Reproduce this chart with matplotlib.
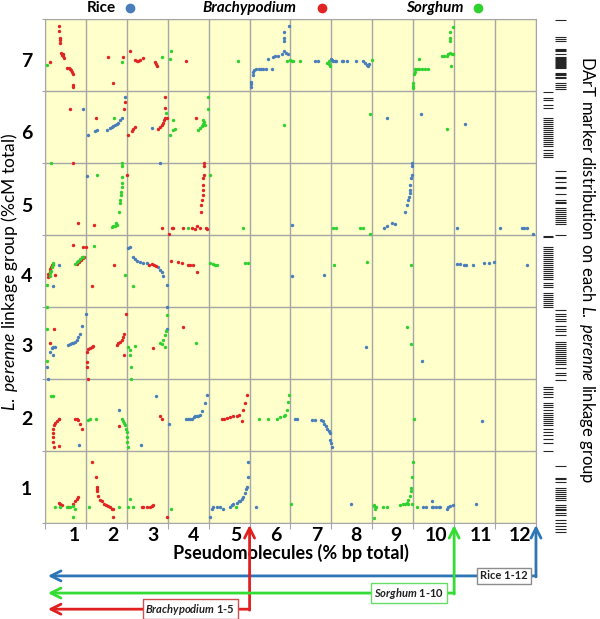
import matplotlib.pyplot as plt
from matplotlib.lines import Line2D
from matplotlib.transforms import blended_transform_factory

plt.rcParams['font.family'] = ['Lato', 'DejaVu Sans']
plt.rcParams['mathtext.fontset'] = 'custom'
plt.rcParams['mathtext.rm'] = 'Lato'
plt.rcParams['mathtext.it'] = 'Lato:italic'
plt.rcParams['mathtext.bf'] = 'Lato:bold'
plt.rcParams['mathtext.bfit'] = 'Lato:italic:bold'

# ---- syntenic marker positions (x: pseudomolecule, y: L. perenne linkage group) ----
rice = [
    (5.04, 6.13), (5.04, 6.10), (5.04, 6.05), (5.08, 6.22), (5.09, 6.27), (5.11, 6.29), (5.16, 6.31),
    (5.22, 6.31), (5.27, 6.31), (5.34, 6.31), (5.40, 6.31), (5.54, 6.31), (5.46, 6.45), (5.57, 6.47),
    (5.63, 6.48), (5.70, 6.49), (5.79, 6.51), (5.84, 6.55), (5.89, 6.53), (5.95, 6.52), (5.83, 6.82),
    (5.84, 6.73), (5.84, 6.69), (5.97, 6.90), (6.60, 6.41), (6.68, 6.41), (6.99, 6.44), (7.01, 6.43),
    (7.05, 6.42), (7.09, 6.42), (7.11, 6.42), (7.25, 6.42), (7.29, 6.41), (7.38, 6.41), (7.60, 6.42),
    (7.78, 6.41), (7.82, 6.39), (7.87, 6.36), (7.90, 6.35), (7.93, 6.38),
    (0.93, 5.75), (1.06, 5.39), (1.22, 5.45), (1.26, 5.46), (1.52, 5.46), (1.59, 5.48), (1.63, 5.50),
    (1.67, 5.51), (1.71, 5.53), (1.75, 5.54), (1.79, 5.56), (1.83, 5.60), (1.88, 5.62), (1.96, 5.91),
    (2.61, 5.48), (8.37, 5.62), (9.19, 5.68), (10.27, 5.54),
    (1.02, 4.82), (2.80, 5.00), (6.03, 4.14), (8.97, 5.00), (8.97, 4.96), (8.97, 4.83), (8.95, 4.79),
    (8.92, 4.69), (8.91, 4.62), (8.91, 4.58), (8.89, 4.53), (8.87, 4.49), (8.84, 4.42), (8.80, 4.32),
    (8.56, 4.15), (8.48, 4.17), (8.37, 4.13), (8.29, 4.10), (10.07, 4.10), (11.12, 4.10), (11.65, 4.10),
    (11.71, 4.10), (11.78, 4.10), (11.92, 4.01),
    (0.35, 3.58), (0.20, 3.29), (2.08, 3.84), (2.04, 3.82), (2.14, 3.70), (2.20, 3.66), (2.24, 3.64),
    (2.32, 3.62), (2.40, 3.61), (2.49, 3.61), (2.77, 3.55), (2.81, 3.51), (2.85, 3.48), (2.89, 3.43),
    (2.97, 3.31), (6.03, 3.43), (6.82, 3.44), (10.08, 3.60), (10.15, 3.60), (10.23, 3.59), (10.29, 3.58),
    (10.46, 3.58), (10.73, 3.61), (10.86, 3.61), (10.98, 3.63), (11.78, 3.58),
    (0.12, 2.38), (0.16, 2.43), (0.20, 2.45), (0.24, 2.45), (0.20, 2.33), (0.06, 2.17), (0.08, 2.00),
    (0.57, 2.47), (0.61, 2.49), (0.65, 2.50), (0.69, 2.50), (0.73, 2.52), (0.77, 2.54), (0.81, 2.59),
    (0.86, 2.63), (0.90, 2.73), (0.99, 2.90), (2.97, 3.00), (2.99, 2.69), (7.85, 2.45), (9.21, 2.25),
    (0.84, 1.08), (1.82, 1.57), (2.34, 1.08), (2.71, 1.76), (3.04, 1.38), (3.45, 1.44), (3.50, 1.44),
    (3.55, 1.44), (3.59, 1.45), (3.63, 1.47), (3.67, 1.48), (3.71, 1.49), (3.75, 1.49), (3.79, 1.50),
    (3.83, 1.55), (3.91, 1.66), (3.97, 1.78), (6.11, 1.44), (6.15, 1.44), (6.52, 1.43), (6.60, 1.43),
    (6.74, 1.43), (6.79, 1.41), (6.82, 1.38), (6.87, 1.35), (6.90, 1.31), (6.93, 1.28), (6.97, 1.25),
    (6.97, 1.15), (6.99, 1.11), (7.01, 1.06), (10.68, 1.42),
    (4.03, 0.08), (4.08, 0.20), (4.11, 0.22), (4.20, 0.22), (4.28, 0.22), (4.36, 0.20), (4.52, 0.22),
    (4.56, 0.25), (4.60, 0.27), (4.69, 0.28), (4.73, 0.31), (4.77, 0.30), (4.81, 0.33), (4.85, 0.36),
    (4.89, 0.41), (4.91, 0.47), (4.93, 0.50), (4.95, 0.64), (4.97, 0.85), (5.16, 0.22), (7.48, 0.26),
    (9.25, 0.22), (9.32, 0.22), (9.45, 0.22), (9.49, 0.22), (9.56, 0.22), (9.62, 0.22), (9.66, 0.22),
    (9.82, 0.20), (9.86, 0.22), (9.90, 0.23), (9.97, 0.25), (9.45, 0.30), (10.54, 0.27),
]

brachy = [
    (0.35, 6.90), (0.35, 6.84), (0.37, 6.74), (0.37, 6.71), (0.37, 6.67), (0.39, 6.53), (0.42, 6.50),
    (0.44, 6.51), (0.44, 6.48), (0.46, 6.46), (0.12, 6.40), (0.54, 6.32), (0.59, 6.32), (0.61, 6.31),
    (0.63, 6.29), (0.66, 6.26), (0.68, 6.24), (0.68, 6.08), (0.69, 6.06), (1.54, 6.47), (1.66, 6.11),
    (1.91, 6.47), (2.08, 6.56), (2.20, 6.43), (2.24, 6.42), (2.28, 6.42), (2.32, 6.43), (2.39, 6.46),
    (2.69, 6.40), (2.71, 6.38), (2.74, 6.35), (3.45, 6.42),
    (0.61, 5.75), (1.25, 5.62), (1.93, 5.75), (1.96, 5.85), (2.04, 5.39), (2.12, 5.45), (2.16, 5.47),
    (2.20, 5.50), (2.77, 5.47), (2.81, 5.50), (2.85, 5.53), (2.88, 5.56), (2.91, 5.60), (2.93, 5.62),
    (2.98, 5.62), (2.93, 5.91), (2.93, 5.76), (3.69, 5.62),
    (0.68, 5.00), (2.01, 4.83), (0.81, 4.17), (1.20, 4.14), (3.89, 5.00), (3.89, 4.96), (3.89, 4.83),
    (3.87, 4.79), (3.87, 4.69), (3.86, 4.62), (3.85, 4.56), (3.83, 4.49), (3.81, 4.42), (3.81, 4.32),
    (3.71, 4.13), (3.67, 4.09), (3.79, 4.10), (3.94, 4.10), (3.97, 4.09), (2.85, 4.10), (3.10, 4.10),
    (3.14, 4.10), (3.37, 4.10), (3.59, 4.10), (3.04, 4.01),
    (0.68, 3.86), (0.92, 3.84), (1.00, 3.84), (0.07, 3.42), (0.08, 3.46), (0.11, 3.49), (0.12, 3.53),
    (0.14, 3.56), (0.17, 3.59), (0.24, 3.44), (1.14, 3.29), (0.79, 3.60), (0.84, 3.63), (0.88, 3.65),
    (0.92, 3.68), (0.95, 3.70), (1.69, 3.58), (2.55, 3.58), (2.61, 3.60), (2.67, 3.58), (2.71, 3.57),
    (3.07, 3.64), (3.26, 3.62), (3.34, 3.61), (3.49, 3.59), (3.55, 3.58), (3.61, 3.59), (3.71, 3.49),
    (0.22, 2.69), (0.12, 2.50), (1.03, 2.38), (1.06, 2.41), (1.10, 2.43), (1.14, 2.45), (1.18, 2.46),
    (1.03, 2.24), (1.03, 2.17), (1.06, 2.00), (1.98, 2.90), (1.75, 2.47), (1.79, 2.50), (1.83, 2.52),
    (1.88, 2.54), (1.91, 2.59), (1.93, 2.63), (1.93, 2.33), (2.65, 2.43), (3.37, 2.72),
    (0.20, 1.31), (0.22, 1.36), (0.24, 1.39), (0.29, 1.42), (0.33, 1.44), (0.35, 1.44), (0.20, 1.25),
    (0.20, 1.20), (0.20, 1.13), (0.22, 1.06), (0.33, 1.07), (0.73, 1.44), (0.77, 1.44), (0.81, 1.43),
    (0.86, 1.38), (0.90, 1.31), (1.82, 1.35), (2.81, 1.48), (2.85, 1.44), (4.32, 1.45), (4.38, 1.45),
    (4.44, 1.46), (4.52, 1.47), (4.60, 1.48), (4.69, 1.49), (4.75, 1.50), (4.83, 1.57), (4.89, 1.66),
    (4.93, 1.78), (4.81, 1.42),
    (0.33, 0.28), (0.37, 0.26), (0.41, 0.25), (0.57, 0.22), (0.68, 0.26), (0.73, 0.30), (0.77, 0.33),
    (0.81, 0.36), (1.14, 0.85), (1.25, 0.64), (1.26, 0.50), (1.26, 0.47), (1.28, 0.44), (1.30, 0.37),
    (1.34, 0.32), (1.39, 0.30), (1.43, 0.27), (1.49, 0.25), (1.55, 0.23), (1.59, 0.22), (1.63, 0.20),
    (1.67, 0.20), (1.66, 0.08), (2.36, 0.22), (2.40, 0.22), (2.49, 0.22), (2.57, 0.22), (2.61, 0.24),
    (2.63, 0.25), (2.99, 0.08),
]

sorghum = [
    (0.05, 6.36), (1.88, 6.40), (2.86, 6.47), (3.08, 6.56), (3.06, 6.44), (4.72, 6.42), (5.91, 6.42),
    (5.99, 6.43), (6.03, 6.42), (6.07, 6.42), (6.23, 6.41), (6.89, 6.39), (6.93, 6.41), (6.95, 6.38),
    (6.97, 6.35), (7.99, 6.43), (9.15, 6.44), (9.05, 6.31), (9.09, 6.31), (9.15, 6.31), (9.21, 6.31),
    (9.29, 6.31), (9.37, 6.31), (9.05, 6.27), (9.03, 6.24), (9.00, 6.11), (9.00, 6.07), (9.00, 6.04),
    (9.70, 6.48), (9.76, 6.48), (9.82, 6.49), (9.86, 6.51), (9.90, 6.53), (9.94, 6.52), (9.97, 6.51),
    (9.89, 6.82), (9.89, 6.73), (9.89, 6.69), (9.98, 6.89), (9.92, 6.35),
    (1.69, 5.62), (2.96, 5.69), (3.06, 5.39), (3.14, 5.46), (3.18, 5.47), (3.14, 5.60), (3.75, 5.46),
    (3.79, 5.48), (3.83, 5.51), (3.87, 5.54), (3.89, 5.57), (3.91, 5.53), (3.86, 5.60), (3.99, 5.91),
    (3.99, 5.75), (5.84, 5.53), (7.95, 5.68), (9.82, 5.47),
    (0.14, 5.00), (1.26, 4.83), (1.88, 5.00), (1.88, 4.96), (1.88, 4.81), (1.88, 4.72), (1.88, 4.67),
    (1.86, 4.60), (1.85, 4.56), (1.83, 4.49), (1.83, 4.44), (1.82, 4.32), (1.63, 4.11), (1.67, 4.12),
    (1.71, 4.13), (1.75, 4.14), (1.74, 4.16), (3.50, 4.10), (4.03, 4.83), (4.83, 4.10), (7.05, 4.10),
    (7.11, 4.10), (7.70, 4.10), (7.77, 4.10), (7.95, 4.01),
    (1.20, 3.85), (0.11, 3.43), (0.12, 3.47), (0.14, 3.50), (0.16, 3.55), (0.19, 3.58), (0.20, 3.61),
    (0.04, 3.31), (0.73, 3.60), (0.77, 3.62), (0.81, 3.64), (0.86, 3.67), (0.90, 3.69), (0.94, 3.70),
    (1.96, 3.44), (2.16, 3.29), (4.03, 3.61), (4.10, 3.60), (4.16, 3.58), (4.21, 3.58), (4.89, 3.61),
    (4.95, 3.61), (7.07, 3.58), (7.88, 3.63), (8.94, 3.58),
    (0.04, 3.00), (0.04, 2.70), (0.04, 2.25), (2.04, 2.45), (2.08, 2.40), (2.08, 2.33), (2.10, 2.17),
    (2.10, 2.00), (2.20, 2.46), (2.97, 2.89), (2.81, 2.50), (2.85, 2.49), (2.89, 2.54), (2.93, 2.61),
    (2.96, 2.66), (2.93, 2.44), (3.69, 2.50), (8.84, 2.72), (8.95, 2.49),
    (0.14, 1.76), (0.19, 1.76), (1.06, 1.43), (1.10, 1.44), (1.25, 1.44), (1.88, 1.44), (1.91, 1.42),
    (1.93, 1.39), (1.96, 1.36), (1.98, 1.31), (2.00, 1.27), (2.00, 1.20), (2.01, 1.13), (2.04, 1.06),
    (5.22, 1.44), (5.46, 1.44), (5.66, 1.45), (5.75, 1.47), (5.83, 1.49), (5.87, 1.50), (5.91, 1.57),
    (5.95, 1.68), (5.97, 1.78), (9.02, 1.44),
    (0.24, 0.22), (0.37, 0.22), (0.53, 0.22), (0.61, 0.22), (0.69, 0.24), (0.73, 0.20), (0.68, 0.08),
    (1.08, 0.22), (1.82, 0.22), (2.08, 0.34), (2.04, 0.22), (2.14, 0.22), (3.07, 0.20), (4.67, 0.22),
    (6.01, 0.27), (8.03, 0.23), (8.04, 0.25), (8.07, 0.20), (8.09, 0.22), (8.03, 0.07), (8.26, 0.22),
    (8.37, 0.22), (8.68, 0.25), (8.75, 0.26), (8.80, 0.26), (8.84, 0.28), (8.86, 0.26), (8.88, 0.32),
    (8.92, 0.37), (8.94, 0.44), (8.94, 0.48), (8.97, 0.64), (8.99, 0.85), (8.97, 0.27), (9.09, 0.22),
]

# DArT marker positions on each linkage group (same y scale)
dart_lg7 = [6.99, 6.75, 6.73, 6.69, 6.59, 6.57, 6.55, 6.52, 6.47, 6.46, 6.44, 6.43, 6.42, 6.40, 6.39,
            6.38, 6.36, 6.35, 6.33, 6.32, 6.25, 6.24, 6.22, 6.20, 6.18, 6.11, 6.08, 6.06, 6.03]
dart_lg6 = [5.99, 5.91, 5.88, 5.80, 5.77, 5.63, 5.60, 5.57, 5.54, 5.51, 5.49, 5.46, 5.43, 5.40, 5.38,
            5.35, 5.32, 5.29, 5.26, 5.24, 5.18, 5.14, 5.11, 5.09]
dart_lg5 = [4.89, 4.81, 4.79, 4.73, 4.67, 4.65, 4.57, 4.49, 4.46, 4.44, 4.37, 4.35, 4.32, 4.29, 4.26,
            4.24, 4.21, 4.18, 4.16, 4.00]
dart_lg4 = [3.99, 3.97, 3.84, 3.81, 3.78, 3.75, 3.72, 3.69, 3.67, 3.64, 3.61, 3.58, 3.56, 3.53, 3.50,
            3.47, 3.44, 3.42, 3.39, 3.33, 3.31, 3.28, 3.19, 3.17, 3.14, 3.11, 3.08, 3.06, 3.03, 3.00]
dart_lg3 = [2.96, 2.90, 2.87, 2.83, 2.81, 2.73, 2.69, 2.66, 2.61, 2.52, 2.49, 2.46, 2.43, 2.40, 2.38,
            2.35, 2.32, 2.29, 2.26, 2.24, 2.21, 2.15, 2.08, 2.06, 1.99]
dart_lg2 = [1.89, 1.86, 1.82, 1.79, 1.75, 1.67, 1.64, 1.61, 1.57, 1.53, 1.50, 1.47, 1.44, 1.42, 1.39,
            1.36, 1.31, 1.27, 1.22, 1.16, 1.11, 1.00]
dart_lg1 = [0.79, 0.63, 0.61, 0.57, 0.48, 0.46, 0.43, 0.40, 0.38, 0.35, 0.32, 0.25, 0.22, 0.19, 0.18,
            0.14, 0.11, 0.04, 0.00, -0.04, -0.08, -0.13]

x_labels = ['1', '2', '3', '4', '5', '6', '7', '8', '9', '10', '11', '12']
x_label_pos = [0.73, 1.66, 2.64, 3.62, 4.67, 5.65, 6.63, 7.60, 8.58, 9.56, 10.66, 11.61]
y_labels = ['1', '2', '3', '4', '5', '6', '7']
y_label_pos = [0.49, 1.46, 2.47, 3.44, 4.42, 5.43, 6.43]

species = ['Rice', 'Brachypodium', 'Sorghum']
n_chrom = [12, 5, 10]
colors = {'Rice': '#4a7ebb', 'Brachypodium': '#e02424', 'Sorghum': '#2fd12f'}
arrow_cols = {'Rice': '#2e75b6', 'Brachypodium': '#e02020', 'Sorghum': '#33dd33'}

fig = plt.figure(figsize=(6, 6.19), dpi=100)
ax = fig.add_axes([0.075, 0.1551, 0.8183, 0.8142])
ax.set_facecolor('#ffffcc')

for name, pts in zip(species, [rice, brachy, sorghum]):
    xs = [p[0] for p in pts]
    ys = [p[1] for p in pts]
    ax.scatter(xs, ys, s=6, color=colors[name], linewidths=0, zorder=3)

ax.set_xlim(0, 12)
ax.set_ylim(0, 7)
ax.set_xticks(range(13), labels=[])
ax.set_yticks(range(8), labels=[])
ax.set_xticks(x_label_pos, labels=x_labels, minor=True, fontsize=14, fontweight='bold')
ax.set_yticks(y_label_pos, labels=y_labels, minor=True, fontsize=14, fontweight='bold')
ax.grid(True, which='major', color='#a6a6a6', lw=1)
ax.tick_params(which='major', axis='x', length=4, color='#a6a6a6')
ax.tick_params(which='major', axis='y', length=2, color='#a6a6a6')
ax.tick_params(which='minor', length=0, pad=3)
ax.tick_params(which='minor', axis='y', pad=9)
for sp in ax.spines.values():
    sp.set_color('#a6a6a6')

ax.set_xlabel('Pseudomolecules (% bp total)', fontsize=13, fontweight='bold', labelpad=0)
fig.text(0.016, 0.56, r'$\mathit{L.\ perenne}$ linkage group (%cM total)', rotation=90,
         ha='center', va='center', fontsize=12.5)
fig.text(0.978, 0.565, r'DArT marker distribution on each $\mathit{L.\ perenne}$ linkage group',
         rotation=270, ha='center', va='center', fontsize=12)

# top legend
leg_text_x = [101, 249, 435]
leg_dot_x = [130, 322, 478]
for name, tx, dx in zip(species, leg_text_x, leg_dot_x):
    style = 'normal' if name == 'Rice' else 'italic'
    fig.text(tx / 600, 0.987, name, ha='center', va='center', fontsize=11, fontweight='bold',
             fontstyle=style)
    fig.add_artist(Line2D([dx / 600], [0.987], marker='o', ms=6, color=colors[name], lw=0,
                          transform=fig.transFigure))

# DArT barcode strips
bc = fig.add_axes([0.9, 0.1357, 0.05, 0.840])
bc.set_xlim(0, 1)
bc.set_ylim(-0.167, 7.056)
bc.axis('off')
for i, marks in enumerate([dart_lg1, dart_lg2, dart_lg3, dart_lg4, dart_lg5, dart_lg6, dart_lg7]):
    if i % 2 == 0:
        x0, x1 = 0.5, 0.88
    else:
        x0, x1 = 0.1, 0.44
    bc.hlines(marks, x0, x1, color='#262626', lw=0.8)

# chromosome-range arrows under the x axis
trans = blended_transform_factory(ax.transData, ax.transAxes)
arrow_y = {'Rice': -0.105, 'Sorghum': -0.139, 'Brachypodium': -0.171}
box_x = {'Rice': 11.22, 'Sorghum': 8.90, 'Brachypodium': 3.55}
box_ec = {'Rice': '#8c8c8c', 'Sorghum': '#66dd66', 'Brachypodium': '#d05050'}
for name, n in zip(species, n_chrom):
    yf = arrow_y[name]
    col = arrow_cols[name]
    props = dict(arrowstyle='->', color=col, lw=2, shrinkA=0, shrinkB=0, mutation_scale=18)
    ax.annotate('', xy=(0.07, yf), xytext=(n, yf), xycoords=trans, textcoords=trans,
                arrowprops=props, annotation_clip=False)
    ax.annotate('', xy=(n, -0.004), xytext=(n, yf - 0.002), xycoords=trans, textcoords=trans,
                arrowprops=props, annotation_clip=False)
    if name == 'Rice':
        label = 'Rice 1-%d' % n
    else:
        label = r'$\mathbfit{%s}$ 1-%d' % (name, n)
    ax.text(box_x[name], yf, label, transform=trans, ha='center', va='center', fontsize=8,
            fontweight='bold', color='#222222', zorder=5,
            bbox=dict(boxstyle='square,pad=0.25', fc='white', ec=box_ec[name], lw=1))

fig.savefig('out.png', dpi=100)
